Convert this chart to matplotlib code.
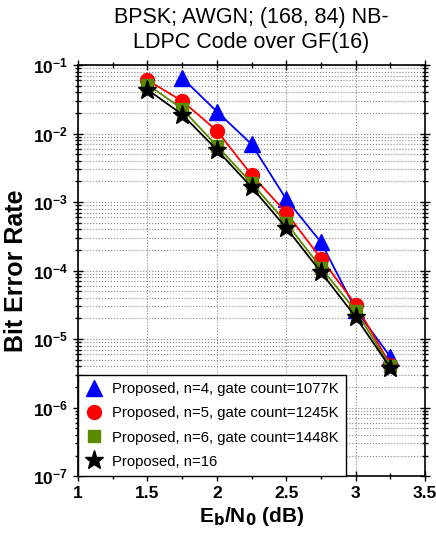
import numpy as np
import matplotlib
matplotlib.use('Agg')
import matplotlib.pyplot as plt
from matplotlib.ticker import LogLocator, MultipleLocator, NullFormatter

plt.rcParams['font.family'] = ['Liberation Sans', 'DejaVu Sans']

# Eb/N0 (dB) values
snr_n4 = [1.75, 2.0, 2.25, 2.5, 2.75, 3.0, 3.25]
ber_n4 = [6.5e-2, 2.1e-2, 7.0e-3, 1.1e-3, 2.6e-4, 2.7e-5, 5.5e-6]

snr_other = [1.5, 1.75, 2.0, 2.25, 2.5, 2.75, 3.0, 3.25]
ber_n5 = [6.0e-2, 3.0e-2, 1.1e-2, 2.5e-3, 7.0e-4, 1.5e-4, 3.2e-5, 4.2e-6]
ber_n6 = [5.2e-2, 2.3e-2, 6.6e-3, 1.9e-3, 5.0e-4, 1.1e-4, 2.6e-5, 4.0e-6]
ber_n16 = [4.4e-2, 1.9e-2, 5.8e-3, 1.65e-3, 4.2e-4, 9.5e-5, 2.1e-5, 3.8e-6]

labels = ['Proposed, n=4, gate count=1077K',
          'Proposed, n=5, gate count=1245K',
          'Proposed, n=6, gate count=1448K',
          'Proposed, n=16']

fig = plt.figure(figsize=(4.36, 5.38), dpi=100)
ax = fig.add_axes([0.179, 0.115, 0.796, 0.764])

ax.semilogy(snr_n4, ber_n4, '-^', color='blue', mfc='blue', mec='blue',
            ms=11, lw=1.3, label=labels[0], zorder=3)
ax.semilogy(snr_other, ber_n5, '-o', color='red', mfc='red', mec='red',
            ms=10, lw=1.3, label=labels[1], zorder=4)
ax.semilogy(snr_other, ber_n6, '-s', color='#5a8a00', mfc='#5a8a00',
            mec='#5a8a00', ms=9, lw=1.3, label=labels[2], zorder=5)
ax.semilogy(snr_other, ber_n16, '-*', color='black', mfc='black',
            mec='black', ms=14, lw=1.3, label=labels[3], zorder=6)

ax.set_xlim(1, 3.5)
ax.set_ylim(1e-7, 1e-1)
ax.xaxis.set_major_locator(MultipleLocator(0.5))
ax.xaxis.set_minor_locator(MultipleLocator(0.25))
ax.yaxis.set_major_locator(LogLocator(base=10, numticks=10))
ax.yaxis.set_minor_locator(LogLocator(base=10, subs=np.arange(2, 10), numticks=100))
ax.yaxis.set_minor_formatter(NullFormatter())

ax.set_xticks([1, 1.5, 2, 2.5, 3, 3.5])
ax.set_xticklabels(['1', '1.5', '2', '2.5', '3', '3.5'])

ax.grid(True, which='major', axis='x', linestyle=':', color='#888888', lw=0.8)
ax.grid(True, which='both', axis='y', linestyle=':', color='#888888', lw=0.8)

ax.tick_params(which='both', direction='inout', top=True, right=True,
               labelsize=12.5, width=1.0)
ax.tick_params(which='major', length=7)
ax.tick_params(which='minor', length=4)
for lab in ax.get_xticklabels() + ax.get_yticklabels():
    lab.set_fontweight('bold')
for sp in ax.spines.values():
    sp.set_linewidth(1.2)

ax.set_xlabel(r'E$_\mathbf{b}$/N$_\mathbf{0}$ (dB)', fontsize=15,
              fontweight='bold', labelpad=3)
ax.set_ylabel('Bit Error Rate', fontsize=18, fontweight='bold', labelpad=4)
ax.set_title('BPSK; AWGN; (168, 84) NB-\nLDPC Code over GF(16)',
             fontsize=15.5, pad=12, linespacing=1.25)

leg = ax.legend(loc='lower left', borderaxespad=0, fontsize=10.7,
                fancybox=False, edgecolor='black', framealpha=1,
                handlelength=1.2, handletextpad=0.6, labelspacing=0.68,
                borderpad=0.5, numpoints=1)
leg.get_frame().set_linewidth(1.0)
for h in leg.legend_handles:
    h.set_linestyle('')

fig.savefig('out.png', dpi=100)
